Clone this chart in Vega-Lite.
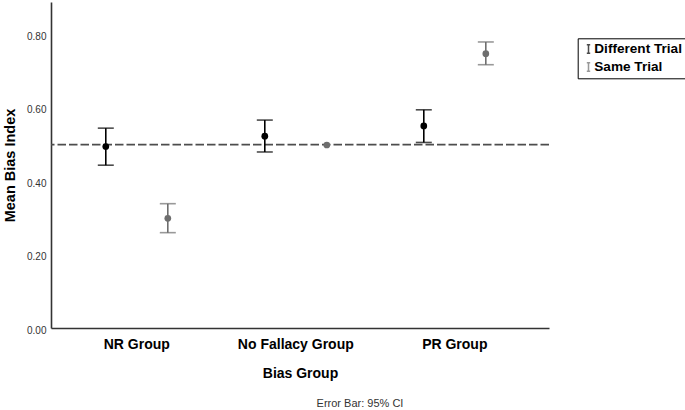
{
  "$schema": "https://vega.github.io/schema/vega-lite/v6.json",
  "autosize": {"type": "none"},
  "padding": {"left": 51, "top": 2, "right": 136, "bottom": 82},
  "width": 498,
  "height": 326,
  "background": "white",
  "config": {
    "view": {"stroke": null},
    "font": "Liberation Sans"
  },
  "title": {
    "text": "Error Bar: 95% CI",
    "orient": "bottom",
    "anchor": "middle",
    "dx": 60,
    "offset": 18,
    "fontSize": 11,
    "fontWeight": "normal",
    "font": "Liberation Sans",
    "color": "#333333"
  },
  "datasets": {
    "stats": [
      {"group": "NR Group", "trial": "Different Trial", "mean": 0.495, "lo": 0.444, "hi": 0.545},
      {"group": "NR Group", "trial": "Same Trial", "mean": 0.299, "lo": 0.260, "hi": 0.339},
      {"group": "No Fallacy Group", "trial": "Different Trial", "mean": 0.523, "lo": 0.480, "hi": 0.567},
      {"group": "No Fallacy Group", "trial": "Same Trial", "mean": 0.499, "lo": null, "hi": null},
      {"group": "PR Group", "trial": "Different Trial", "mean": 0.551, "lo": 0.506, "hi": 0.595},
      {"group": "PR Group", "trial": "Same Trial", "mean": 0.748, "lo": 0.718, "hi": 0.780}
    ],
    "ref": [{"ref": 0.5}]
  },
  "layer": [
    {
      "data": {"name": "ref"},
      "mark": {"type": "rule", "strokeDash": [8.5, 3], "color": "#4d4d4d", "strokeWidth": 1.6},
      "encoding": {
        "y": {
          "field": "ref",
          "type": "quantitative",
          "scale": {"domain": [0, 0.889], "nice": false, "zero": true},
          "axis": {
            "title": "Mean Bias Index",
            "values": [0, 0.2, 0.4, 0.6, 0.8],
            "format": ".2f",
            "grid": false,
            "ticks": false,
            "labelFontSize": 10,
            "labelColor": "#333333",
            "labelPadding": 5,
            "labelOffset": 2,
            "titleFontSize": 14.5,
            "titleFontWeight": "bold",
            "titleColor": "#000000",
            "titlePadding": 9,
            "domainColor": "#333333",
            "domainWidth": 1.6
          }
        }
      }
    },
    {
      "data": {"name": "stats"},
      "encoding": {
        "x": {
          "field": "group",
          "type": "nominal",
          "sort": ["NR Group", "No Fallacy Group", "PR Group"],
          "scale": {"paddingInner": 0, "paddingOuter": 0.066, "align": 0.3},
          "axis": {
            "title": "Bias Group",
            "labelAngle": 0,
            "ticks": false,
            "labelFontSize": 14,
            "labelFontWeight": "bold",
            "labelColor": "#000000",
            "labelPadding": 9,
            "titleFontSize": 14,
            "titleFontWeight": "bold",
            "titleColor": "#000000",
            "titlePadding": 15,
            "domainColor": "#333333",
            "domainWidth": 1.6
          }
        },
        "xOffset": {
          "field": "trial",
          "type": "nominal",
          "scale": {"domain": ["Different Trial", "Same Trial"], "paddingInner": 0, "paddingOuter": 0.282}
        },
        "color": {
          "field": "trial",
          "type": "nominal",
          "scale": {"domain": ["Different Trial", "Same Trial"], "range": ["#000000", "#6e6e6e"]},
          "legend": {
            "title": null,
            "orient": "none",
            "legendX": 526.7,
            "legendY": 36.3,
            "strokeColor": "#000000",
            "padding": 4,
            "symbolType": "M-0.4,-1H0.4M0,-1V1M-0.4,1H0.4",
            "symbolSize": 72,
            "symbolStrokeWidth": 1.5,
            "labelFontSize": 13.6,
            "labelFontWeight": "bold",
            "labelColor": "#000000",
            "labelOffset": -1,
            "rowPadding": 1.8
          }
        }
      },
      "layer": [
        {
          "mark": {"type": "rule", "strokeWidth": 1.6},
          "encoding": {
            "y": {"field": "lo", "type": "quantitative"},
            "y2": {"field": "hi"}
          }
        },
        {
          "mark": {"type": "tick", "size": 16, "thickness": 1.6},
          "encoding": {"y": {"field": "lo", "type": "quantitative"}}
        },
        {
          "mark": {"type": "tick", "size": 16, "thickness": 1.6},
          "encoding": {"y": {"field": "hi", "type": "quantitative"}}
        },
        {
          "mark": {"type": "point", "filled": true, "size": 45, "opacity": 1},
          "encoding": {"y": {"field": "mean", "type": "quantitative"}}
        }
      ]
    }
  ]
}
